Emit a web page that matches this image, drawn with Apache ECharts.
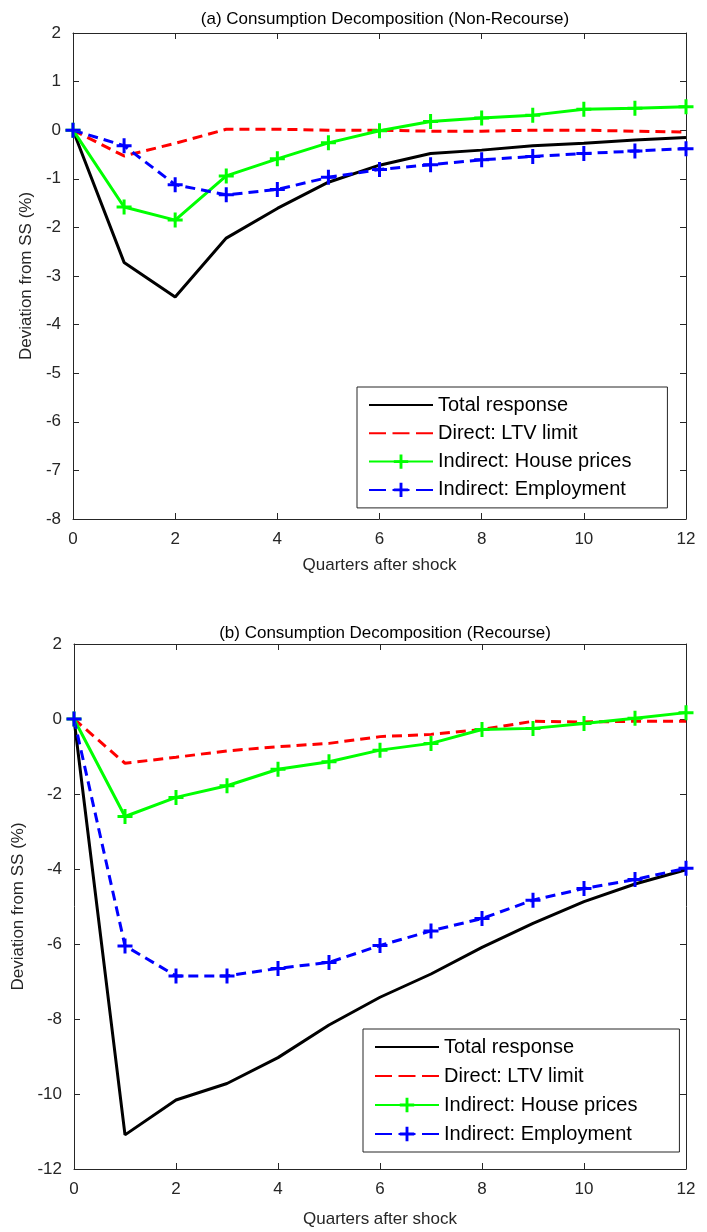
<!DOCTYPE html>
<html>
<head>
<meta charset="utf-8">
<script src="https://cdn.jsdelivr.net/npm/echarts@6/dist/echarts.min.js"></script>
<style>
  html, body { margin: 0; padding: 0; background: #fff; }
  #chart { width: 707px; height: 1232px; }
</style>
</head>
<body>
<div id="chart"></div>
<script>
  // quarters after the shock (x values)
  const quarters = [0, 1, 2, 3, 4, 5, 6, 7, 8, 9, 10, 11, 12];
  const seriesNames = ["Total response", "Direct: LTV limit", "Indirect: House prices", "Indirect: Employment"];

  // (a) non-recourse
  const aTotal = [0, -2.72, -3.43, -2.22, -1.61, -1.07, -0.72, -0.48, -0.41, -0.32, -0.27, -0.20, -0.15];
  const aLtv = [0, -0.53, -0.27, 0.02, 0.02, 0.0, 0.0, -0.02, -0.02, 0.0, 0.0, -0.02, -0.04];
  const aHouse = [0, -1.58, -1.85, -0.94, -0.59, -0.26, -0.01, 0.18, 0.25, 0.31, 0.43, 0.45, 0.48];
  const aEmploy = [0, -0.32, -1.12, -1.33, -1.22, -0.97, -0.81, -0.71, -0.61, -0.54, -0.48, -0.43, -0.38];

  // (b) recourse
  const bTotal = [0, -11.09, -10.16, -9.72, -9.03, -8.16, -7.42, -6.80, -6.09, -5.45, -4.87, -4.40, -4.02];
  const bLtv = [0, -1.18, -1.02, -0.85, -0.74, -0.65, -0.47, -0.41, -0.28, -0.06, -0.08, -0.06, -0.06];
  const bHouse = [0, -2.60, -2.09, -1.78, -1.34, -1.14, -0.83, -0.65, -0.28, -0.25, -0.12, 0.02, 0.17];
  const bEmploy = [0, -6.05, -6.85, -6.85, -6.65, -6.49, -6.04, -5.65, -5.32, -4.83, -4.52, -4.28, -3.98];

  const xTicks = { min: 0, max: 12, interval: 2 };
  const aYTicks = { min: -8, max: 2, interval: 1 };
  const bYTicks = { min: -12, max: 2, interval: 2 };

  const FONT = "Liberation Sans";
  const AXIS = "#262626";
  const PLUS = "path://M4,0 L6,0 L6,4 L10,4 L10,6 L6,6 L6,10 L4,10 L4,6 L0,6 L0,4 L4,4 Z";

  function pairs(vals) {
    return quarters.map((q, i) => [q, vals[i]]);
  }

  const tick = { show: true, inside: true, length: 6, lineStyle: { color: AXIS } };
  const line = { show: true, onZero: false, lineStyle: { color: AXIS, width: 1 } };

  function mainX(gridIndex, gap) {
    return {
      type: "value", gridIndex: gridIndex, ...xTicks,
      name: "Quarters after shock", nameLocation: "middle", nameGap: gap,
      nameTextStyle: { fontFamily: FONT, fontSize: 17, color: AXIS },
      axisLine: line, axisTick: tick,
      axisLabel: { margin: 12, fontFamily: FONT, fontSize: 17, color: AXIS },
      splitLine: { show: false },
    };
  }
  function boxX(gridIndex) {
    return {
      type: "value", gridIndex: gridIndex, position: "top", ...xTicks,
      axisLine: line, axisTick: tick,
      axisLabel: { show: false },
      splitLine: { show: false },
    };
  }
  function mainY(gridIndex, ticks, gap) {
    return {
      type: "value", gridIndex: gridIndex, ...ticks,
      name: "Deviation from SS (%)", nameLocation: "middle", nameGap: gap,
      nameTextStyle: { fontFamily: FONT, fontSize: 17, color: AXIS },
      axisLine: line, axisTick: tick,
      axisLabel: { margin: 12, fontFamily: FONT, fontSize: 17, color: AXIS },
      splitLine: { show: false },
    };
  }
  function boxY(gridIndex, ticks) {
    return {
      type: "value", gridIndex: gridIndex, position: "right", ...ticks,
      axisLine: line, axisTick: tick,
      axisLabel: { show: false },
      splitLine: { show: false },
    };
  }

  function lines(idx, total, ltv, house, employ) {
    return [
      {
        name: seriesNames[0], type: "line", xAxisIndex: idx, yAxisIndex: idx,
        data: pairs(total), symbol: "none",
        lineStyle: { color: "#000000", width: 3 }, itemStyle: { color: "#000000" },
      },
      {
        name: seriesNames[1], type: "line", xAxisIndex: idx, yAxisIndex: idx,
        data: pairs(ltv), symbol: "none",
        lineStyle: { color: "#ff0000", width: 3, type: [10, 6] }, itemStyle: { color: "#ff0000" },
      },
      {
        name: seriesNames[2], type: "line", xAxisIndex: idx, yAxisIndex: idx,
        data: pairs(house), symbol: PLUS, symbolSize: 15, showAllSymbol: true,
        lineStyle: { color: "#00ff00", width: 3 }, itemStyle: { color: "#00ff00" },
      },
      {
        name: seriesNames[3], type: "line", xAxisIndex: idx, yAxisIndex: idx,
        data: pairs(employ), symbol: PLUS, symbolSize: 15, showAllSymbol: true,
        lineStyle: { color: "#0000ff", width: 3, type: [10, 6] }, itemStyle: { color: "#0000ff" },
      },
    ];
  }

  // legend: no marker on the plain line entries, longer dashes
  function legendBox(left, top, gap, padRight) {
    return {
      data: [
        { name: seriesNames[0], itemStyle: { opacity: 0 } },
        { name: seriesNames[1], itemStyle: { opacity: 0 }, lineStyle: { type: [17, 6.5] } },
        { name: seriesNames[2] },
        { name: seriesNames[3], lineStyle: { type: [17, 6.5] } },
      ],
      orient: "vertical", left: left, top: top,
      itemWidth: 64, itemHeight: 18, itemGap: gap,
      padding: [8, padRight, 8, 11],
      borderColor: AXIS, borderWidth: 1, backgroundColor: "#ffffff",
      textStyle: { fontFamily: FONT, fontSize: 20, lineHeight: 18, color: "#000" },
      selectedMode: false,
    };
  }

  const chart = echarts.init(document.getElementById("chart"));
  chart.setOption({
    animation: false,
    title: [
      {
        text: "(a) Consumption Decomposition (Non-Recourse)", left: 380, top: 6, textAlign: "center",
        textStyle: { fontFamily: FONT, fontSize: 17, fontWeight: "normal", color: "#000" },
      },
      {
        text: "(b) Consumption Decomposition (Recourse)", left: 380, top: 620, textAlign: "center",
        textStyle: { fontFamily: FONT, fontSize: 17, fontWeight: "normal", color: "#000" },
      },
    ],
    legend: [legendBox(357, 387, 8.3, 36), legendBox(363, 1029, 9, 42)],
    grid: [
      { left: 73, top: 33, width: 613, height: 486 },
      { left: 74, top: 644, width: 612, height: 525 },
    ],
    xAxis: [mainX(0, 38), mainX(1, 42), boxX(0), boxX(1)],
    yAxis: [mainY(0, aYTicks, 34), mainY(1, bYTicks, 44), boxY(0, aYTicks), boxY(1, bYTicks)],
    series: [
      ...lines(0, aTotal, aLtv, aHouse, aEmploy),
      ...lines(1, bTotal, bLtv, bHouse, bEmploy),
    ],
  });
</script>
</body>
</html>
